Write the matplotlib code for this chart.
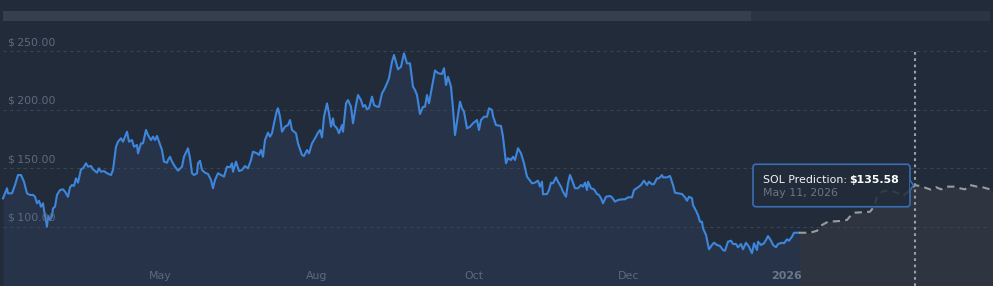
import matplotlib.pyplot as plt
import matplotlib.transforms as mtransforms
from matplotlib.patches import FancyBboxPatch, Rectangle, Polygon

# Historical SOL price (position on the ordinal time axis, USD)
hist_pos = [3, 7, 8, 12, 15, 18, 21, 24, 27, 30, 33, 35, 37, 39, 41, 43, 44, 47, 48, 50,
            52, 53, 55, 57, 60, 63, 65, 68, 70, 72, 74, 76, 78, 81, 83, 86, 88, 91, 93, 97,
            99, 101, 104, 107, 111, 113, 116, 118, 121, 123, 125, 127, 129, 132, 134, 137, 138, 141, 143, 146,
            148, 151, 153, 155, 157, 159, 162, 164, 167, 168, 170, 172, 175, 178, 182, 184, 188, 190, 192, 194,
            197, 198, 200, 202, 205, 208, 211, 213, 215, 218, 221, 224, 227, 230, 232, 233, 236, 239, 242, 245,
            248, 251, 253, 257, 259, 261, 263, 265, 268, 270, 272, 274, 277, 278, 280, 282, 285, 288, 290, 292,
            296, 298, 302, 304, 307, 309, 312, 315, 318, 320, 322, 324, 327, 329, 331, 333, 334, 337, 339, 342,
            343, 346, 348, 351, 353, 356, 358, 361, 363, 365, 367, 369, 372, 374, 377, 379, 382, 384, 387, 389,
            392, 394, 398, 401, 404, 407, 410, 413, 415, 417, 420, 423, 425, 427, 429, 432, 435, 438, 442, 444,
            446, 448, 451, 453, 455, 457, 460, 462, 464, 467, 470, 473, 477, 479, 481, 484, 487, 489, 492, 493,
            496, 501, 503, 506, 508, 511, 513, 515, 518, 521, 524, 527, 529, 532, 535, 538, 540, 542, 543, 547,
            549, 551, 553, 556, 558, 561, 563, 566, 568, 570, 572, 575, 578, 581, 583, 585, 587, 588, 591, 594,
            597, 599, 601, 603, 606, 610, 612, 615, 618, 622, 625, 628, 632, 634, 638, 641, 644, 647, 649, 652,
            654, 657, 659, 662, 663, 667, 670, 673, 675, 678, 682, 685, 687, 689, 692, 693, 696, 698, 700, 702,
            703, 706, 709, 712, 714, 717, 720, 723, 725, 728, 731, 733, 736, 738, 741, 743, 746, 749, 752, 754,
            757, 758, 761, 764, 766, 768, 771, 773, 776, 778, 782, 784, 787, 789, 792, 794, 797, 799]
hist_price = [124.4, 133.0, 128.7, 128.7, 135.8, 144.3, 144.3, 138.6, 128.7, 127.3, 127.3, 125.8, 120.2, 122.4, 117.3, 120.2, 114.5, 100.3, 109.4, 106.0,
              109.4, 115.9, 117.3, 127.3, 131.5, 132.1, 130.1, 125.8, 133.8, 135.8, 135.0, 141.5, 137.8, 149.2, 150.0, 154.3, 151.4, 152.0, 149.2, 146.3,
              150.0, 147.1, 147.7, 145.8, 144.3, 148.6, 168.4, 172.7, 175.6, 172.7, 177.0, 181.2, 172.7, 174.1, 168.4, 169.9, 162.8, 171.3, 171.3, 182.7,
              178.4, 174.1, 177.0, 174.1, 177.6, 172.7, 165.6, 155.7, 154.8, 157.1, 159.9, 155.7, 151.4, 148.0, 151.4, 159.9, 167.1, 158.6, 145.8, 144.3,
              145.8, 154.3, 156.5, 148.6, 146.3, 145.2, 140.1, 133.0, 140.1, 145.8, 144.3, 142.9, 151.4, 150.9, 154.3, 147.1, 155.7, 147.7, 148.6, 152.0,
              150.0, 157.1, 164.2, 162.8, 161.4, 165.6, 159.9, 174.1, 180.4, 177.0, 179.9, 188.4, 199.7, 201.2, 194.0, 181.2, 185.5, 186.9, 191.2, 182.7,
              179.9, 171.3, 161.4, 160.5, 165.6, 162.8, 171.3, 175.6, 180.4, 182.7, 176.4, 194.0, 205.4, 196.9, 185.5, 192.6, 186.9, 184.1, 179.9, 186.9,
              181.2, 205.4, 208.2, 202.5, 188.4, 204.0, 212.5, 208.2, 202.5, 204.0, 200.3, 201.2, 211.1, 204.0, 202.5, 202.5, 214.0, 216.8, 222.5, 226.8,
              240.9, 246.6, 234.4, 236.6, 248.0, 239.5, 239.5, 219.6, 216.8, 212.5, 196.3, 202.5, 202.5, 212.5, 205.4, 219.6, 233.4, 231.1, 230.4, 235.3,
              221.0, 228.1, 219.6, 201.2, 178.4, 189.7, 206.8, 201.2, 198.3, 184.1, 185.5, 188.4, 191.2, 182.7, 191.2, 194.0, 194.0, 201.2, 199.7, 194.6,
              186.9, 186.1, 177.0, 154.3, 158.6, 157.1, 159.9, 157.1, 167.1, 162.8, 154.3, 142.9, 140.7, 137.2, 137.8, 139.5, 134.4, 138.6, 127.9, 128.1,
              131.5, 137.8, 137.2, 142.3, 138.6, 134.4, 130.1, 125.8, 137.2, 144.3, 140.1, 133.0, 133.0, 135.8, 134.4, 137.8, 131.5, 138.6, 133.0, 132.1,
              128.1, 127.3, 124.5, 120.2, 125.8, 126.4, 125.3, 121.6, 123.0, 123.6, 123.6, 125.3, 125.3, 131.5, 133.8, 135.8, 139.5, 135.8, 138.6, 136.4,
              136.6, 141.5, 141.5, 144.3, 142.3, 142.3, 143.5, 135.8, 129.2, 128.7, 128.1, 125.3, 122.4, 125.8, 124.5, 118.7, 113.9, 110.2, 104.5, 104.5,
              98.9, 93.2, 81.0, 84.7, 86.6, 84.7, 83.8, 80.4, 79.8, 87.5, 88.3, 85.5, 85.5, 82.7, 85.5, 81.0, 86.6, 83.2, 77.6, 86.1,
              80.4, 87.5, 84.7, 86.1, 88.9, 92.3, 88.3, 84.7, 82.7, 85.5, 86.6, 86.1, 89.5, 88.3, 91.7, 95.1, 95.1, 95.1]

# Prediction series
pred_pos = [799, 810, 817, 822, 828, 840, 847, 852, 855, 870, 874, 877, 882, 890, 897, 903,
            908, 915, 920, 931, 936, 941, 947, 954, 960, 965, 970, 977, 983, 990, 993]
pred_price = [95.1, 95.1, 96.8, 101.7, 104.5, 105.1, 106.0, 111.1, 112.2, 113.0, 117.3, 125.8, 130.1, 131.5, 129.2, 126.4,
              130.1, 135.58, 135.0, 131.8, 134.0, 132.1, 134.4, 134.4, 133.0, 132.1, 135.8, 134.4, 133.8, 132.1, 131.0]

tick_pos = [160, 317, 474, 629, 786]
tick_labels = ['May', 'Aug', 'Oct', 'Dec', '2026']
price_ticks = [100, 150, 200, 250]

hover_pos = 915
hover_price = 135.58
hover_date = 'May 11, 2026'

# colours
bg = '#222b39'
blue = '#3d86dc'
label_col = '#5d6a7b'

plt.rcParams['font.family'] = ['DejaVu Sans']
plt.rcParams['font.size'] = 7.9

fig = plt.figure(figsize=(9.93, 2.86), dpi=100, facecolor=bg)
ax = fig.add_axes([0, 0, 1, 1])
ymin, ymax = 49.7, 293.5
ax.set_xlim(0, 993)
ax.set_ylim(ymin, ymax)
ax.axis('off')
px = (ymax - ymin) / 286  # price units per pixel

# navigator bar on top
fig.patches.append(Rectangle((3 / 993, 1 - 21 / 286), 748 / 993, 10 / 286,
                             transform=fig.transFigure, fc='#363f4d', ec='none'))
fig.patches.append(Rectangle((751 / 993, 1 - 21 / 286), 239 / 993, 10 / 286,
                             transform=fig.transFigure, fc='#2c3441', ec='none'))

# areas
ax.fill_between(hist_pos, hist_price, ymin, color='#263349', lw=0, zorder=1)
ax.fill_between(pred_pos, pred_price, ymin, color='#2f3540', lw=0, zorder=1)

# grid + price labels
for v in price_ticks:
    ax.axhline(v, xmin=3 / 993, xmax=990 / 993, color='#394352', lw=0.8,
               ls=(0, (3, 3)), zorder=2)
    ax.annotate(f'$\u2009{v:.2f}', xy=(8, v), xytext=(0, 9), textcoords='offset pixels',
                ha='left', va='center', color=label_col, zorder=5)

# x labels
trans = mtransforms.blended_transform_factory(ax.transData, ax.transAxes)
for p, lab in zip(tick_pos, tick_labels):
    bold = lab == '2026'
    ax.text(p, 0.035, lab, transform=trans, ha='center', va='center',
            color='#6c7787' if bold else label_col,
            fontweight='bold' if bold else 'normal', zorder=5)

# hover line
ax.axvline(hover_pos, ymax=(250 - ymin) / (ymax - ymin), color='#9ba1aa', lw=1.5,
           ls=(0, (1.3, 1.7)), zorder=3)

# series lines
ax.plot(hist_pos, hist_price, color=blue, lw=1.5, solid_joinstyle='round', zorder=4)
ax.plot(pred_pos, pred_price, color='#9c9c9c', lw=1.5, ls=(0, (3.5, 2.5)), zorder=4)

# tooltip
box_r = hover_pos - 5
box_l = box_r - 157
box_b = hover_price - 21.5 * px
box_h = 42.5 * px
tip = FancyBboxPatch((box_l, box_b), box_r - box_l, box_h,
                     boxstyle='round,pad=0,rounding_size=3', mutation_aspect=px,
                     fc=(0.133, 0.169, 0.224, 0.85), ec='#3a6db3', lw=1.2, zorder=6)
ax.add_patch(tip)
ax.add_patch(Polygon([(box_r, hover_price + 5 * px), (box_r + 3.5, hover_price),
                      (box_r, hover_price - 5 * px)], closed=False,
                     fc=bg, ec='#3a6db3', lw=1.2, zorder=7))
ax.annotate('SOL Prediction: ', xy=(box_l, hover_price), xytext=(10, 5),
            textcoords='offset pixels', ha='left', va='center', color='#f2f4f7', zorder=8)
ax.annotate(f'${hover_price:.2f}', xy=(box_r, hover_price), xytext=(-11, 5),
            textcoords='offset pixels', ha='right', va='center', color='#ffffff',
            fontweight='bold', zorder=8)
ax.annotate(hover_date, xy=(box_l, hover_price), xytext=(10, -8),
            textcoords='offset pixels', ha='left', va='center', color='#6b7585', zorder=8)

fig.savefig('out.png', dpi=100, facecolor=bg)
